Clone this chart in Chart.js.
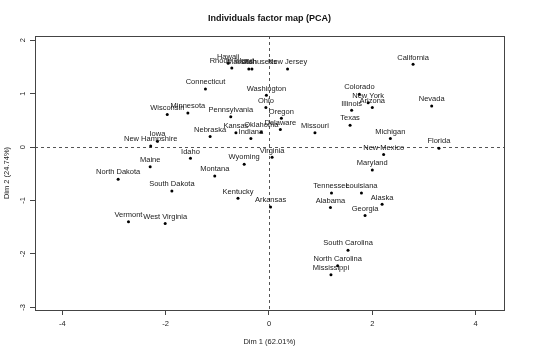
<!DOCTYPE html>
<html>
<head>
<meta charset="utf-8">
<script src="https://cdn.jsdelivr.net/npm/chart.js@4.4.1/dist/chart.umd.min.js"></script>
<style>
html,body{margin:0;padding:0;background:#fff;}
#wrap{width:540px;height:356px;}
</style>
</head>
<body>
<div id="wrap"><canvas id="c" width="540" height="356"></canvas></div>
<script>
const names = ["Alabama","Alaska","Arizona","Arkansas","California","Colorado","Connecticut","Delaware","Florida","Georgia","Hawaii","Idaho","Illinois","Indiana","Iowa","Kansas","Kentucky","Louisiana","Maine","Maryland","Massachusetts","Michigan","Minnesota","Mississippi","Missouri","Montana","Nebraska","Nevada","New Hampshire","New Jersey","New Mexico","New York","North Carolina","North Dakota","Ohio","Oklahoma","Oregon","Pennsylvania","Rhode Island","South Carolina","South Dakota","Tennessee","Texas","Utah","Vermont","Virginia","Washington","West Virginia","Wisconsin","Wyoming"];
const dim1 = [1.19,2.19,2.00,0.03,2.79,1.75,-1.23,0.22,3.29,1.86,-0.79,-1.52,1.60,-0.35,-2.16,-0.64,-0.60,1.79,-2.30,2.00,-0.33,2.35,-1.57,1.20,0.89,-1.05,-1.14,3.15,-2.29,0.36,2.22,1.92,1.33,-2.92,-0.06,-0.15,0.24,-0.74,-0.72,1.53,-1.88,1.21,1.57,-0.39,-2.72,0.06,-0.05,-2.01,-1.97,-0.48];
const dim2 = [-1.13,-1.07,0.74,-1.12,1.55,0.99,1.09,0.33,-0.02,-1.28,1.57,-0.21,0.69,0.16,0.11,0.27,-0.96,-0.86,-0.37,-0.43,1.46,0.16,0.64,-2.39,0.27,-0.54,0.20,0.77,0.02,1.46,-0.14,0.83,-2.22,-0.60,0.74,0.28,0.54,0.57,1.48,-1.93,-0.82,-0.86,0.41,1.46,-1.40,-0.19,0.97,-1.43,0.61,-0.32];
const xTicks = [-4,-2,0,2,4];
const yTicks = [-3,-2,-1,0,1,2];
const titleText = "Individuals factor map (PCA)";
const xLabel = "Dim 1 (62.01%)";
const yLabel = "Dim 2 (24.74%)";

const FONT = "'Liberation Sans', Arial, Helvetica, sans-serif";
const points = names.map((n,i)=>({x:dim1[i], y:dim2[i]}));

const drawPlugin = {
  id:'rdraw',
  beforeDatasetsDraw(chart){
    const ctx = chart.ctx, a = chart.chartArea;
    const xs = chart.scales.x, ys = chart.scales.y;
    ctx.save();
    ctx.strokeStyle = '#555';
    ctx.lineWidth = 1;
    ctx.setLineDash([3,3]);
    const x0 = Math.round(xs.getPixelForValue(0))+0.5;
    const y0 = Math.round(ys.getPixelForValue(0))+0.5;
    ctx.beginPath(); ctx.moveTo(x0,a.top); ctx.lineTo(x0,a.bottom); ctx.stroke();
    ctx.beginPath(); ctx.moveTo(a.left,y0); ctx.lineTo(a.right,y0); ctx.stroke();
    ctx.restore();
  },
  afterDatasetsDraw(chart){
    const ctx = chart.ctx, a = chart.chartArea;
    const xs = chart.scales.x, ys = chart.scales.y;
    const meta = chart.getDatasetMeta(0);
    ctx.save();
    // frame
    ctx.strokeStyle = '#444';
    ctx.lineWidth = 1;
    ctx.setLineDash([]);
    ctx.strokeRect(Math.round(a.left)+0.5, Math.round(a.top)+0.5, Math.round(a.right-a.left), Math.round(a.bottom-a.top));
    // point labels
    ctx.fillStyle = '#1a1a1a';
    ctx.font = "7.5px " + FONT;
    ctx.textAlign = 'center';
    ctx.textBaseline = 'middle';
    meta.data.forEach((el,i)=>{
      ctx.fillText(names[i], el.x, el.y - 6.8);
    });
    // tick labels
    ctx.fillStyle = '#222';
    ctx.font = "7.5px " + FONT;
    xTicks.forEach(v=>{
      ctx.fillText(String(v), xs.getPixelForValue(v), 324);
    });
    yTicks.forEach(v=>{
      const py = ys.getPixelForValue(v);
      ctx.save();
      ctx.translate(23, py);
      ctx.rotate(-Math.PI/2);
      ctx.fillText(String(v), 0, 0);
      ctx.restore();
    });
    // axis titles
    ctx.fillText(xLabel, (a.left+a.right)/2, 342);
    ctx.save();
    ctx.translate(7, (a.top+a.bottom)/2);
    ctx.rotate(-Math.PI/2);
    ctx.fillText(yLabel, 0, 0);
    ctx.restore();
    // title
    ctx.fillStyle = '#111';
    ctx.font = "bold 9px " + FONT;
    ctx.fillText(titleText, (a.left+a.right)/2, 19);
    ctx.restore();
  }
};

new Chart(document.getElementById('c'), {
  type:'scatter',
  data:{datasets:[{data:points, pointRadius:1.5, pointHoverRadius:1.5, pointBackgroundColor:'#000', pointBorderWidth:0, pointBorderColor:'#000'}]},
  options:{
    responsive:false, animation:false,
    events:[],
    layout:{padding:{top:36,right:36,left:0,bottom:0}},
    plugins:{legend:{display:false}, title:{display:false}, tooltip:{enabled:false}},
    scales:{
      x:{type:'linear', min:-4.53, max:4.55,
        afterBuildTicks(s){ s.ticks = xTicks.map(v=>({value:v})); },
        afterFit(s){ s.height = 46; },
        ticks:{color:'rgba(0,0,0,0)', font:{size:7}},
        grid:{display:true, drawOnChartArea:false, drawTicks:true, tickLength:5, color:'#444'},
        border:{display:false}
      },
      y:{type:'linear', min:-3.05, max:2.08,
        afterBuildTicks(s){ s.ticks = yTicks.map(v=>({value:v})); },
        afterFit(s){ s.width = 35; },
        ticks:{color:'rgba(0,0,0,0)', font:{size:7}},
        grid:{display:true, drawOnChartArea:false, drawTicks:true, tickLength:5, color:'#444'},
        border:{display:false}
      }
    }
  },
  plugins:[drawPlugin]
});
</script>
</body>
</html>
